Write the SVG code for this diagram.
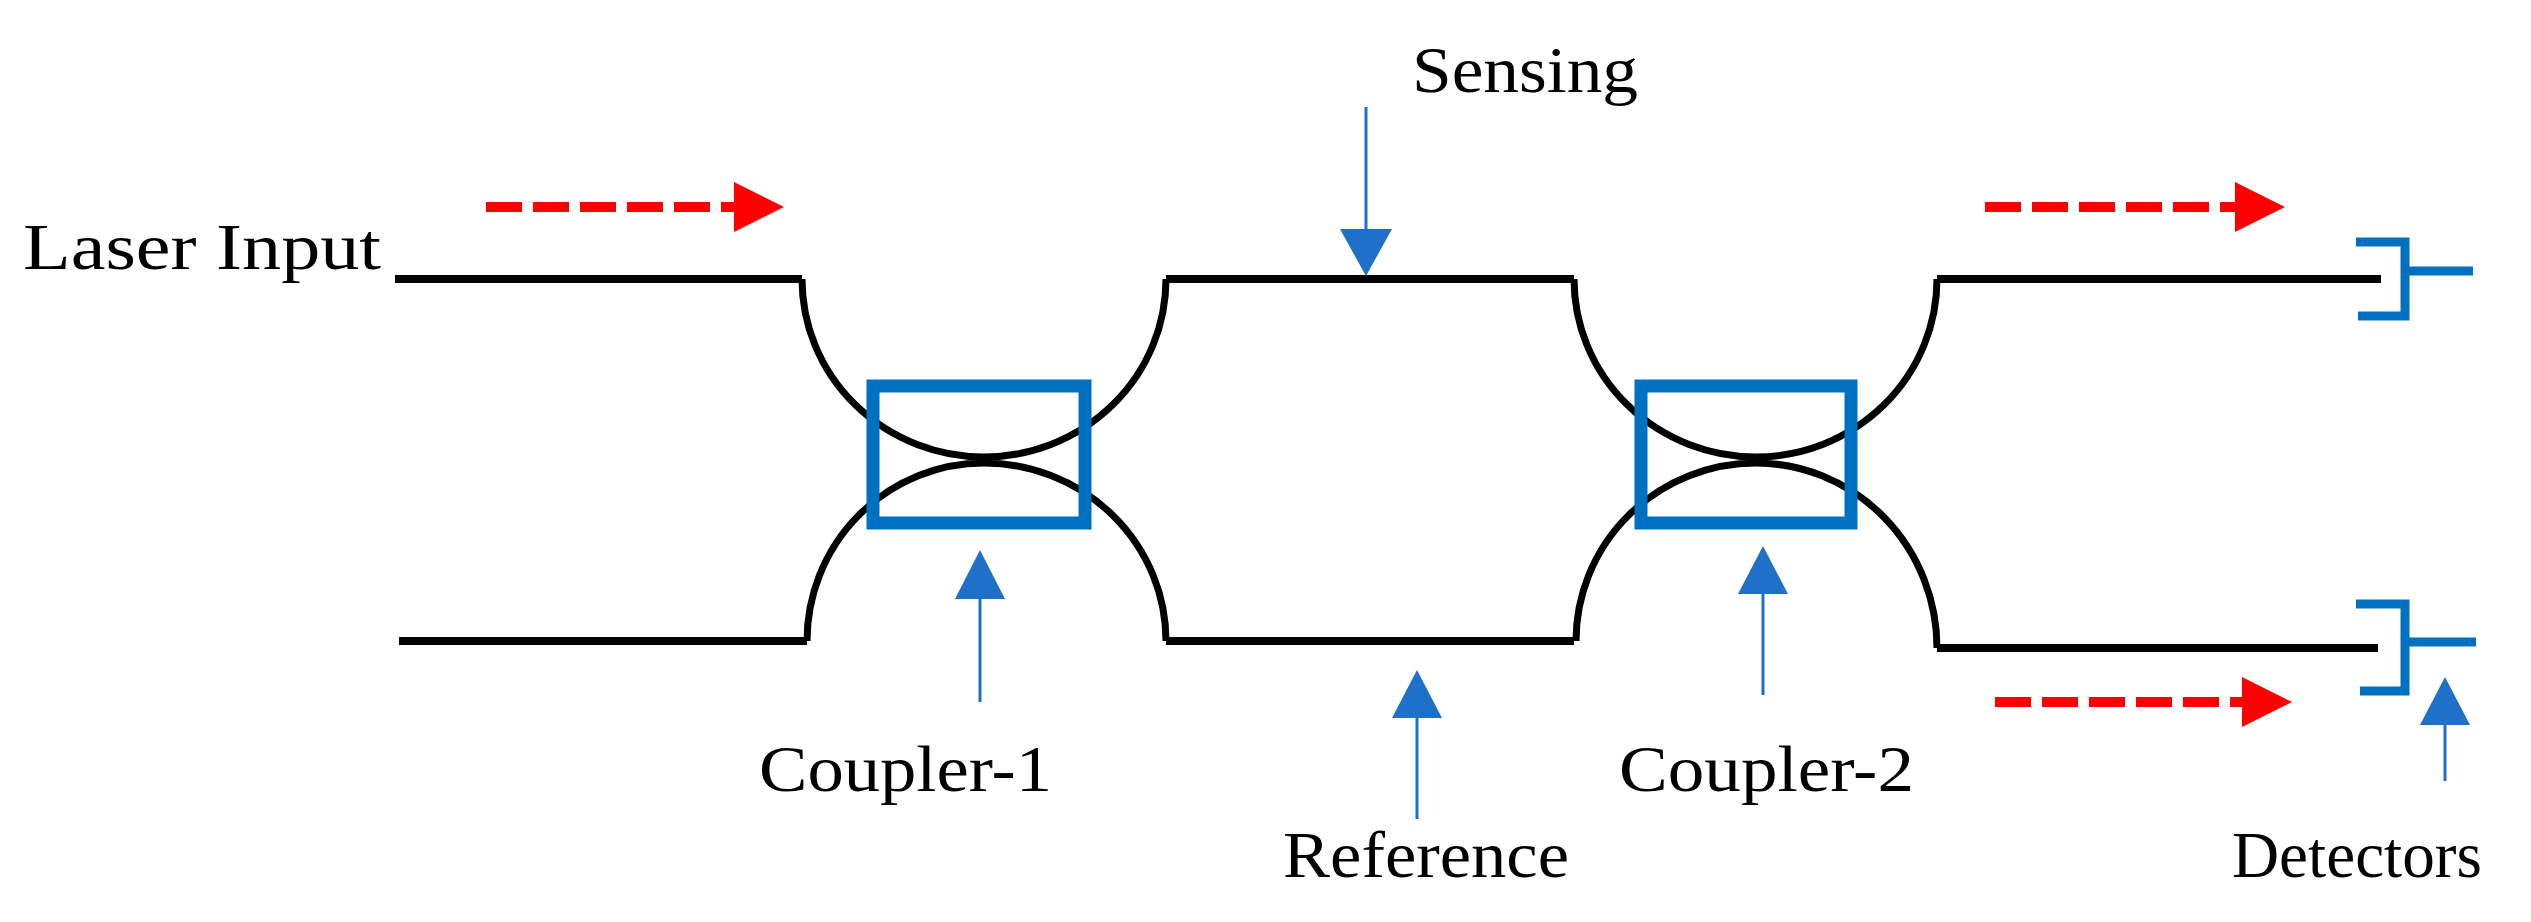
<svg xmlns="http://www.w3.org/2000/svg" width="2531" height="922" viewBox="0 0 2531 922">
<style>
.wg{fill:none;stroke:#000;stroke-width:8}
.cv{fill:none;stroke:#000;stroke-width:7}
.box{fill:none;stroke:#0070C0;stroke-width:13}
.det{fill:none;stroke:#0070C0;stroke-width:9}
.red{fill:none;stroke:#FF0000;stroke-width:10;stroke-dasharray:36 11}
.stem{stroke:#1F70C8;stroke-width:3}
.txt{font-family:"Liberation Serif",serif;font-size:66px;fill:#000}
</style>
<defs>
<marker id="rh" markerUnits="userSpaceOnUse" markerWidth="50" markerHeight="50" refX="0" refY="25" orient="auto"><path d="M0,0 L50,25 L0,50 Z" fill="#FF0000"/></marker>
</defs>
<rect width="2531" height="922" fill="#fff"/>
<g id="waveguides">
<path class="wg" d="M395,279 H802 M399,641 H807 M1166,279 H1574 M1166,641 H1574 M1937,279 H2381 M1937,648 H2378"/>
<path class="cv" d="M802,279 A182,178 0 0 0 984,457 A182,178 0 0 0 1166,279 M807,641 A177,178 0 0 1 984,463 A182,178 0 0 1 1166,641"/>
<path class="cv" d="M1574,279 A182,178 0 0 0 1756,457 A181,178 0 0 0 1937,279 M1576,641 A180,178 0 0 1 1756,463 A181,185 0 0 1 1937,648"/>
</g>
<g id="coupler1"><rect class="box" x="873" y="386" width="212" height="137"/></g>
<g id="coupler2"><rect class="box" x="1641" y="386" width="210" height="137"/></g>
<g id="detector1"><path class="det" d="M2356,242 H2405 V316 H2358 M2405,271 H2473"/></g>
<g id="detector2"><path class="det" d="M2356,604 H2405 V691 H2360 M2405,642 H2476"/></g>
<g id="connectors">
<line class="red" x1="486" y1="207" x2="734" y2="207" marker-end="url(#rh)"/>
<line class="red" x1="1985" y1="207" x2="2235" y2="207" marker-end="url(#rh)"/>
<line class="red" x1="1995" y1="702" x2="2242" y2="702" marker-end="url(#rh)"/>
<line class="stem" x1="1366" y1="107" x2="1366" y2="230"/>
<path d="M1340,229 L1392,229 L1366,276 Z" fill="#1F70C8"/>
<line class="stem" x1="980" y1="598" x2="980" y2="702"/>
<path d="M955,599 L1005,599 L980,550 Z" fill="#1F70C8"/>
<line class="stem" x1="1417" y1="717" x2="1417" y2="819"/>
<path d="M1392,718 L1442,718 L1417,670 Z" fill="#1F70C8"/>
<line class="stem" x1="1763" y1="593" x2="1763" y2="695"/>
<path d="M1738,594 L1788,594 L1763,546 Z" fill="#1F70C8"/>
<line class="stem" x1="2445" y1="724" x2="2445" y2="781"/>
<path d="M2420,725 L2470,725 L2445,677 Z" fill="#1F70C8"/>
</g>
<g id="labels">
<text class="txt" x="23" y="269" textLength="358" lengthAdjust="spacingAndGlyphs">Laser Input</text>
<text class="txt" x="1412" y="92" textLength="226" lengthAdjust="spacingAndGlyphs">Sensing</text>
<text class="txt" x="759" y="791" textLength="293" lengthAdjust="spacingAndGlyphs">Coupler-1</text>
<text class="txt" x="1619" y="791" textLength="295" lengthAdjust="spacingAndGlyphs">Coupler-2</text>
<text class="txt" x="1283" y="877" textLength="286" lengthAdjust="spacingAndGlyphs">Reference</text>
<text class="txt" x="2232" y="877" textLength="250" lengthAdjust="spacingAndGlyphs">Detectors</text>
</g>
</svg>
